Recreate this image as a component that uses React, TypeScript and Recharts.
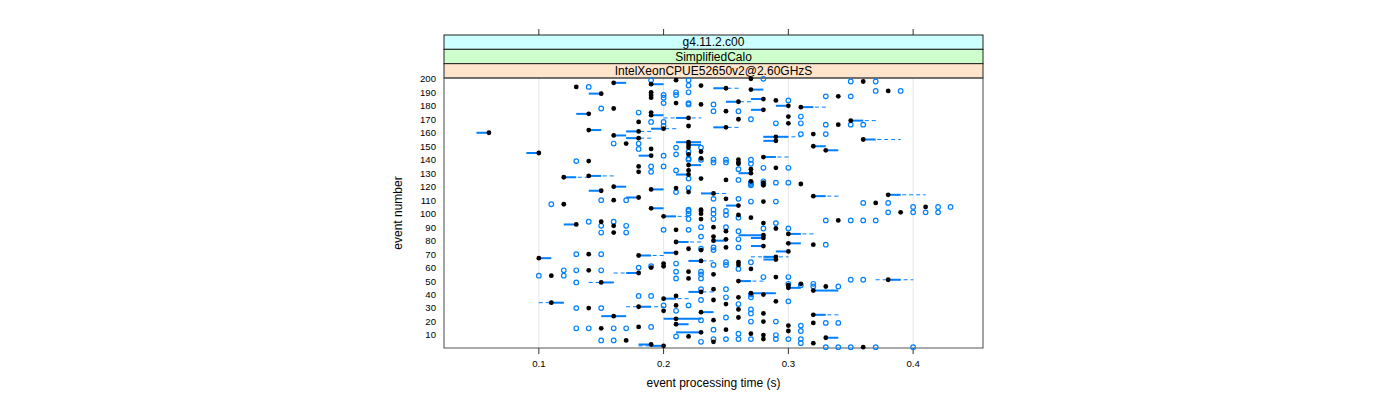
import React from 'react';
import {
  CartesianGrid,
  Customized,
  ErrorBar,
  Scatter,
  ScatterChart,
  XAxis,
  YAxis,
} from 'recharts';

// event numbers are the y categories (1..200)
const eventNumbers = Array.from({ length: 200 }, (_, i) => i + 1);

// median processing time per event (s), event 1 first
const medianTimes = [
  0.36, 0.2, 0.19, 0.32, 0.24, 0.17, 0.28, 0.33, 0.22, 0.28,
  0.27, 0.23, 0.3, 0.25, 0.15, 0.18, 0.3, 0.21, 0.32, 0.28,
  0.24, 0.21, 0.26, 0.16, 0.32, 0.28, 0.23, 0.2, 0.26, 0.14,
  0.18, 0.21, 0.25, 0.11, 0.29, 0.24, 0.2, 0.26, 0.21, 0.28,
  0.27, 0.23, 0.32, 0.24, 0.3, 0.33, 0.3, 0.31, 0.15, 0.26,
  0.38, 0.22, 0.29, 0.11, 0.24, 0.18, 0.22, 0.14, 0.27, 0.19,
  0.2, 0.26, 0.2, 0.26, 0.23, 0.29, 0.1, 0.29, 0.18, 0.14,
  0.21, 0.3, 0.23, 0.22, 0.25, 0.28, 0.32, 0.3, 0.21, 0.24,
  0.25, 0.28, 0.24, 0.28, 0.3, 0.16, 0.25, 0.21, 0.29, 0.24,
  0.16, 0.13, 0.28, 0.15, 0.34, 0.23, 0.27, 0.2, 0.26, 0.23,
  0.39, 0.23, 0.23, 0.19, 0.41, 0.26, 0.12, 0.37, 0.28, 0.16,
  0.25, 0.18, 0.32, 0.38, 0.24, 0.22, 0.15, 0.19, 0.21, 0.16,
  0.28, 0.31, 0.28, 0.27, 0.25, 0.23, 0.12, 0.14, 0.22, 0.27,
  0.18, 0.22, 0.27, 0.29, 0.18, 0.22, 0.26, 0.26, 0.14, 0.26,
  0.23, 0.28, 0.19, 0.22, 0.1, 0.23, 0.33, 0.19, 0.22, 0.32,
  0.22, 0.17, 0.22, 0.29, 0.36, 0.18, 0.29, 0.16, 0.32, 0.06,
  0.18, 0.14, 0.2, 0.25, 0.22, 0.34, 0.3, 0.18, 0.35, 0.26,
  0.22, 0.3, 0.19, 0.14, 0.19, 0.25, 0.28, 0.16, 0.31, 0.3,
  0.23, 0.21, 0.26, 0.29, 0.28, 0.19, 0.34, 0.19, 0.15, 0.19,
  0.38, 0.27, 0.25, 0.13, 0.23, 0.19, 0.16, 0.36, 0.21, 0.27,
];

// [event, lower hinge, upper hinge]
const boxSpans = [
  [2, 0.19, 0.2], [3, 0.18, 0.19], [8, 0.33, 0.34], [12, 0.21, 0.23], [18, 0.21, 0.22],
  [22, 0.2, 0.23], [24, 0.15, 0.17], [25, 0.32, 0.33], [27, 0.23, 0.24], [31, 0.18, 0.19],
  [34, 0.11, 0.12], [37, 0.2, 0.21], [41, 0.27, 0.29], [42, 0.22, 0.23], [43, 0.32, 0.34],
  [45, 0.3, 0.31], [49, 0.15, 0.16], [50, 0.26, 0.27], [51, 0.38, 0.39], [56, 0.17, 0.18],
  [65, 0.22, 0.23], [66, 0.28, 0.29], [67, 0.1, 0.11], [68, 0.28, 0.29], [69, 0.18, 0.19],
  [71, 0.2, 0.21], [72, 0.29, 0.3], [76, 0.27, 0.28], [78, 0.3, 0.31], [79, 0.21, 0.22],
  [80, 0.24, 0.25], [82, 0.27, 0.28], [84, 0.26, 0.28], [85, 0.3, 0.31], [92, 0.12, 0.13],
  [98, 0.2, 0.21], [104, 0.19, 0.2], [106, 0.25, 0.26], [112, 0.17, 0.18], [113, 0.32, 0.33],
  [114, 0.38, 0.39], [115, 0.23, 0.24], [117, 0.14, 0.15], [118, 0.19, 0.2], [120, 0.16, 0.17],
  [127, 0.12, 0.13], [128, 0.14, 0.15], [129, 0.21, 0.22], [130, 0.26, 0.27], [136, 0.22, 0.23],
  [142, 0.28, 0.29], [143, 0.18, 0.19], [145, 0.09, 0.1], [147, 0.33, 0.34], [150, 0.32, 0.33],
  [151, 0.22, 0.23], [153, 0.21, 0.23], [154, 0.28, 0.29], [155, 0.36, 0.37], [156, 0.17, 0.18],
  [157, 0.28, 0.3], [158, 0.16, 0.17], [160, 0.05, 0.06], [161, 0.17, 0.18], [162, 0.14, 0.15],
  [163, 0.19, 0.2], [164, 0.24, 0.25], [169, 0.35, 0.36], [171, 0.21, 0.22], [173, 0.19, 0.2],
  [174, 0.13, 0.14], [177, 0.27, 0.28], [179, 0.31, 0.32], [180, 0.29, 0.3], [183, 0.25, 0.26],
  [185, 0.27, 0.28], [189, 0.14, 0.15], [192, 0.27, 0.28], [193, 0.24, 0.25], [196, 0.19, 0.2],
  [197, 0.16, 0.17],
];

// [event, lower whisker, upper whisker] where the whiskers reach past the box
const whiskerSpans = [
  [2, 0.18, 0.2], [25, 0.32, 0.34], [31, 0.17, 0.2], [34, 0.1, 0.12], [37, 0.2, 0.22],
  [42, 0.22, 0.24], [49, 0.14, 0.16], [50, 0.26, 0.28], [51, 0.37, 0.4], [56, 0.16, 0.18],
  [65, 0.22, 0.24], [68, 0.27, 0.3], [69, 0.18, 0.2], [79, 0.21, 0.23], [85, 0.3, 0.32],
  [98, 0.2, 0.22], [113, 0.32, 0.34], [114, 0.38, 0.41], [115, 0.23, 0.25], [127, 0.12, 0.14],
  [128, 0.14, 0.16], [142, 0.28, 0.3], [155, 0.36, 0.39], [156, 0.17, 0.19], [157, 0.28, 0.31],
  [161, 0.17, 0.19], [163, 0.19, 0.21], [164, 0.24, 0.26], [169, 0.35, 0.37], [171, 0.2, 0.23],
  [179, 0.31, 0.33], [183, 0.25, 0.27], [193, 0.24, 0.26],
];

// [event, ...outlying run times]
const outlierTimes = [
  [1, 0.33, 0.34, 0.35, 0.37, 0.4], [4, 0.31], [5, 0.23], [6, 0.15, 0.16],
  [7, 0.24, 0.25, 0.26, 0.27, 0.29, 0.3, 0.31], [9, 0.21], [10, 0.29], [11, 0.26], [13, 0.31],
  [14, 0.24], [15, 0.13, 0.14, 0.16, 0.17], [16, 0.19], [17, 0.31], [19, 0.33, 0.34],
  [20, 0.27, 0.29], [21, 0.23], [23, 0.25], [26, 0.27], [28, 0.21], [29, 0.27], [30, 0.13, 0.15],
  [32, 0.2, 0.22], [33, 0.26], [35, 0.3], [36, 0.23], [38, 0.25, 0.27], [39, 0.18, 0.19],
  [40, 0.27], [44, 0.23, 0.25], [46, 0.32, 0.34], [47, 0.31], [48, 0.3, 0.32], [49, 0.13],
  [51, 0.35, 0.36], [52, 0.21, 0.23], [53, 0.28, 0.3], [54, 0.1, 0.12], [55, 0.23],
  [57, 0.21, 0.23], [58, 0.12, 0.13, 0.15], [59, 0.26], [60, 0.18], [61, 0.19], [62, 0.24, 0.25],
  [63, 0.21], [64, 0.25, 0.27], [70, 0.13, 0.15], [73, 0.24], [74, 0.23], [75, 0.24, 0.26],
  [77, 0.33], [81, 0.26], [83, 0.23], [86, 0.15, 0.17], [87, 0.26], [88, 0.2, 0.22],
  [89, 0.28, 0.3], [90, 0.23, 0.25], [91, 0.15, 0.17], [93, 0.29], [94, 0.14, 0.16],
  [95, 0.33, 0.35, 0.36, 0.37], [96, 0.22, 0.24], [97, 0.26], [99, 0.25], [100, 0.22, 0.24],
  [101, 0.38, 0.4, 0.41, 0.42], [102, 0.22, 0.25], [103, 0.22, 0.24], [105, 0.4, 0.42, 0.43],
  [107, 0.11], [108, 0.36, 0.38], [109, 0.27, 0.29], [110, 0.15, 0.17], [111, 0.24, 0.26],
  [116, 0.21], [119, 0.22], [121, 0.27], [122, 0.27, 0.28], [123, 0.27, 0.29, 0.3], [124, 0.28],
  [125, 0.26], [126, 0.22], [131, 0.19], [132, 0.21], [133, 0.26], [134, 0.28, 0.3],
  [135, 0.19, 0.2], [137, 0.27], [138, 0.24, 0.25], [139, 0.13], [140, 0.22, 0.23, 0.24, 0.25, 0.27],
  [141, 0.22], [143, 0.2], [144, 0.21], [146, 0.22], [148, 0.18], [149, 0.21, 0.23],
  [152, 0.16, 0.18], [159, 0.31, 0.33], [165, 0.2], [166, 0.33, 0.35, 0.36], [167, 0.29, 0.31],
  [168, 0.19, 0.2], [170, 0.27], [172, 0.31], [175, 0.18], [176, 0.24, 0.26], [178, 0.15],
  [181, 0.22, 0.24], [182, 0.2, 0.22], [184, 0.3], [186, 0.2], [187, 0.33, 0.35],
  [188, 0.2, 0.21], [190, 0.21, 0.22], [191, 0.37, 0.39], [194, 0.14], [195, 0.22],
  [198, 0.35, 0.37], [199, 0.19, 0.22], [200, 0.28],
];

const xTicks = [0.1, 0.2, 0.3, 0.4];
const yTicks = [10, 20, 30, 40, 50, 60, 70, 80, 90, 100, 110, 120, 130, 140, 150, 160, 170, 180, 190, 200];
const stripLabels = ['g4.11.2.c00', 'SimplifiedCalo', 'IntelXeonCPUE52650v2@2.60GHzS'];
const stripColors = ['#ccffff', '#ccffcc', '#ffe5cc'];

const X_DOMAIN: [number, number] = [0.024, 0.456];
const Y_DOMAIN: [number, number] = [0.4, 200.6];
const W = 1384;
const H = 384;
const PLOT = { left: 436, right: 975, top: 70, bottom: 340 };
const FONT = '"Liberation Sans", Arial, Helvetica, sans-serif';
const BLUE = '#0080ff';

const boxMap = new Map(boxSpans.map((b) => [b[0], [b[1], b[2]]]));
const whiskerMap = new Map(whiskerSpans.map((w) => [w[0], [w[1], w[2]]]));

const rows = eventNumbers.map((ev, i) => {
  const t = medianTimes[i];
  const [blo, bhi] = boxMap.get(ev) ?? [t, t];
  const [wlo, whi] = whiskerMap.get(ev) ?? [blo, bhi];
  return {
    ev,
    t,
    boxErr: [t - blo, bhi - t],
    whiskerErr: [t - wlo, whi - t],
  };
});
const boxRows = rows.filter((r) => boxMap.has(r.ev));
const whiskerRows = rows.filter((r) => whiskerMap.has(r.ev));
const outlierPoints = outlierTimes.flatMap((o) => o.slice(1).map((t) => ({ ev: o[0], t })));

const xPix = (v: number) =>
  PLOT.left + ((v - X_DOMAIN[0]) / (X_DOMAIN[1] - X_DOMAIN[0])) * (PLOT.right - PLOT.left);

const Decorations = () => {
  const stripH = (PLOT.top - 27) / 3;
  return (
    <g fontFamily={FONT}>
      {xTicks.map((v) => (
        <line key={v} x1={xPix(v)} x2={xPix(v)} y1={21} y2={27} stroke="#333" />
      ))}
      {stripLabels.map((label, i) => {
        const y = 27 + i * stripH;
        return (
          <g key={label}>
            <rect
              x={PLOT.left}
              y={y}
              width={PLOT.right - PLOT.left}
              height={stripH}
              fill={stripColors[i]}
              stroke="#222"
            />
            <text x={(PLOT.left + PLOT.right) / 2} y={y + stripH / 2 + 4.3} textAnchor="middle" fontSize={12}>
              {label}
            </text>
          </g>
        );
      })}
      <rect
        x={PLOT.left}
        y={PLOT.top}
        width={PLOT.right - PLOT.left}
        height={PLOT.bottom - PLOT.top}
        fill="none"
        stroke="#555"
      />
      <text x={(PLOT.left + PLOT.right) / 2} y={379} textAnchor="middle" fontSize={12}>
        event processing time (s)
      </text>
      <text
        x={394}
        y={(PLOT.top + PLOT.bottom) / 2}
        textAnchor="middle"
        fontSize={12}
        transform={`rotate(-90 394 ${(PLOT.top + PLOT.bottom) / 2})`}
      >
        event number
      </text>
    </g>
  );
};

const Hidden = () => <g />;

export default function App() {
  return (
    <div style={{ width: W, height: H }}>
      <ScatterChart
        width={W}
        height={H}
        margin={{ top: PLOT.top, right: W - PLOT.right, bottom: 0, left: PLOT.left - 40 }}
      >
        <CartesianGrid horizontal={false} stroke="#e6e6e6" />
        <XAxis
          type="number"
          dataKey="t"
          domain={X_DOMAIN}
          ticks={xTicks}
          interval={0}
          height={H - PLOT.bottom}
          axisLine={false}
          tickSize={6}
          tickMargin={6}
          tickLine={{ stroke: '#333' }}
          tick={{ fill: '#000', fontSize: 9.6, fontFamily: FONT }}
        />
        <YAxis
          type="number"
          dataKey="ev"
          domain={Y_DOMAIN}
          ticks={yTicks}
          interval={0}
          width={40}
          axisLine={false}
          tickLine={false}
          tickSize={2}
          tickMargin={6}
          tick={{ fill: '#000', fontSize: 9.6, fontFamily: FONT }}
        />
        <Scatter data={whiskerRows} shape={<Hidden />} isAnimationActive={false}>
          <ErrorBar
            dataKey="whiskerErr"
            direction="x"
            width={0}
            stroke={BLUE}
            strokeWidth={1}
            strokeDasharray="4 3"
            isAnimationActive={false}
          />
        </Scatter>
        <Scatter data={boxRows} shape={<Hidden />} isAnimationActive={false}>
          <ErrorBar
            dataKey="boxErr"
            direction="x"
            width={0}
            stroke={BLUE}
            strokeWidth={2}
            isAnimationActive={false}
          />
        </Scatter>
        <Scatter
          data={outlierPoints}
          isAnimationActive={false}
          shape={(p: any) => (
            <circle cx={p.cx} cy={p.cy} r={2.3} fill="none" stroke={BLUE} strokeWidth={1.2} />
          )}
        />
        <Scatter
          data={rows}
          isAnimationActive={false}
          shape={(p: any) => <circle cx={p.cx} cy={p.cy} r={2.4} fill="#000" />}
        />
        <Customized component={<Decorations />} />
      </ScatterChart>
    </div>
  );
}
